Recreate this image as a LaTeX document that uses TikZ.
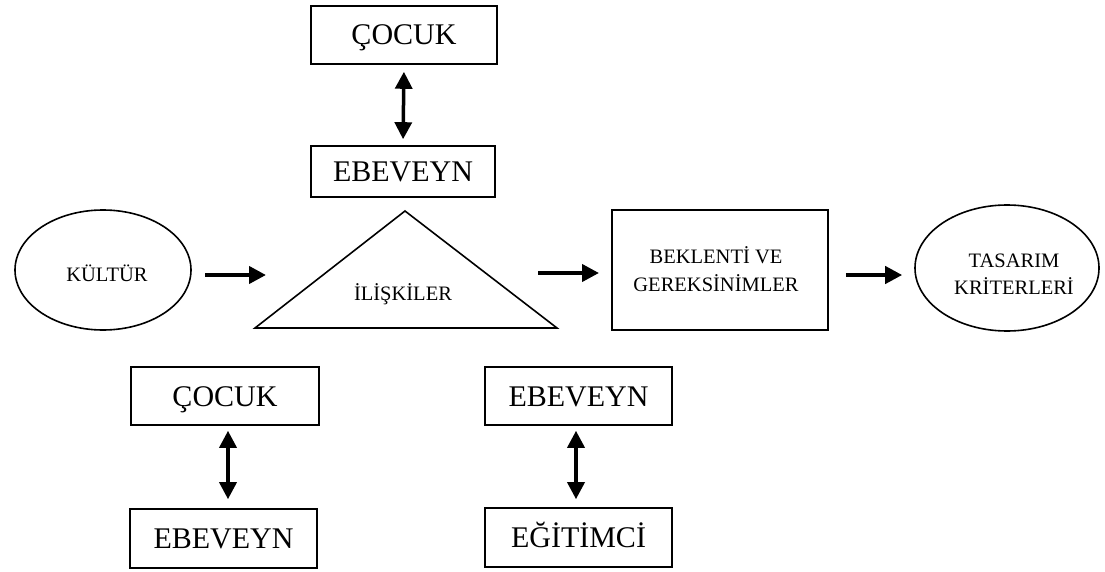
\documentclass[tikz,border=0pt]{standalone}
\usepackage{fontspec}
\setmainfont{Liberation Serif}
\usetikzlibrary{arrows.meta,shapes.geometric,calc}
\begin{document}
\begin{tikzpicture}[x=1pt,y=-1pt,
  bigbox/.style={draw,line width=1.6pt,inner sep=0pt,text height=20pt,text depth=0pt,font=\fontsize{30}{34}\selectfont},
  oval/.style={draw,ellipse,line width=1.6pt,inner sep=0pt},
  smalltxt/.style={inner sep=0pt,text height=13.6pt,text depth=0pt,font=\fontsize{20.5}{27.5}\selectfont},
  harr/.style={line width=4pt,-{Triangle[length=17pt,width=17pt]}},
  varr/.style={line width=3.5pt,{Triangle[length=17pt,width=17pt]}-{Triangle[length=17pt,width=17pt]}}
]
\useasboundingbox (0,0) rectangle (1105,572);
% top pair
\node[bigbox,minimum width=186pt,minimum height=58pt] (c1) at (404,35) {ÇOCUK};
\node[bigbox,minimum width=184pt,minimum height=51pt] (e1) at (403,171.5) {EBEVEYN};
\draw[varr,shorten <=7pt,shorten >=6pt] (c1.south) -- (e1.north);
% triangle
\coordinate (ta) at (405,211);
\coordinate (tl) at (255,328);
\coordinate (tr) at (557,328);
\draw[line width=1.6pt,line join=miter] (ta) -- (tl) -- (tr) -- cycle;
\node[smalltxt] (il) at (403,293.5) {İLİŞKİLER};
% culture
\node[oval,minimum width=176pt,minimum height=120pt] (k) at (103,270) {};
\node[smalltxt] (kt) at (107,275) {KÜLTÜR};
\coordinate (a1s) at (205,275);
\coordinate (a1e) at (266,275);
\draw[harr] (a1s) -- (a1e);
% expectations
\node[draw,line width=1.6pt,minimum width=216pt,minimum height=120pt,inner sep=0pt] (bek) at (720,270) {};
\node[smalltxt,align=center] (bt) at (716,284.5) {BEKLENTİ VE\\GEREKSİNİMLER};
\coordinate (a2s) at (538,273);
\coordinate (a2e) at (599,273);
\draw[harr] (a2s) -- (a2e);
% criteria
\node[oval,minimum width=184pt,minimum height=126pt] (ts) at (1007,268) {};
\node[smalltxt,align=center] (tt) at (1014,288) {TASARIM\\KRİTERLERİ};
\draw[harr] ($(bek.east)+(17,5)$) -- ($(ts.west)+(-12,7)$);
% bottom left pair
\node[bigbox,minimum width=188pt,minimum height=58pt] (c2) at (225,396) {ÇOCUK};
\node[bigbox,minimum width=187pt,minimum height=59pt] (e2) at (223.5,538.5) {EBEVEYN};
\draw[varr,shorten <=5pt,shorten >=9pt] ($(c2.south)+(3,0)$) -- ($(e2.north)+(4.5,0)$);
% bottom right pair
\node[bigbox,minimum width=187pt,minimum height=58pt] (e3) at (578.5,396) {EBEVEYN};
\node[bigbox,minimum width=187pt,minimum height=59pt] (eg) at (578.5,537.5) {EĞİTİMCİ};
\draw[varr,shorten <=5pt,shorten >=8pt] ($(e3.south)+(-2.5,0)$) -- ($(eg.north)+(-2.5,0)$);
\end{tikzpicture}
\end{document}
